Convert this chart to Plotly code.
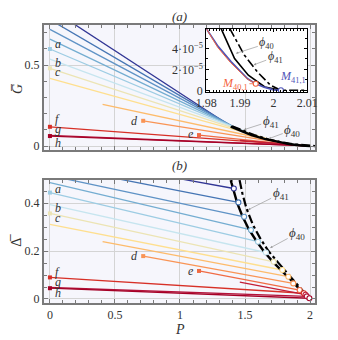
import plotly.graph_objects as go

# colour of every branch, dark blue -> dark red
branch_colors = ["#313695", "#4575b4", "#5f93c6", "#74add1", "#9dcce3", "#c6e5ef",
                 "#ece4b4", "#fedf8f", "#fdbb6b", "#f99455", "#f06b44", "#d73027",
                 "#c21d36", "#b3133a", "#a50026"]

# start / end of every branch
p_start = [0, 0, 0, 0, 0, 0, 0, 0, 0.405, 0.717, 1.146, 0, 1.46, 0, 0]
p_end = [1.414, 1.449, 1.493, 1.546, 1.60, 1.66, 1.72, 1.787, 1.833, 1.871, 1.92, 1.952, 1.965, 1.975, 1.995]
g_start = [0.85, 0.78, 0.72, 0.66, 0.599, 0.537, 0.48, 0.418, 0.257, 0.156, 0.068, 0.119, 0.035, 0.066, 0.062]
g_end = [0.11, 0.10, 0.085, 0.068, 0.055, 0.043, 0.030, 0.020, 0.013, 0.009, 0.005, 0.003, 0.0025, 0.002, 0.001]
delta_start = [0.60, 0.557, 0.515, 0.486, 0.444, 0.394, 0.357, 0.311, 0.239, 0.179, 0.117, 0.090, 0.070, 0.048, 0.045]
delta_end = [0.461, 0.403, 0.343, 0.288, 0.239, 0.194, 0.155, 0.121, 0.093, 0.065, 0.0375, 0.024, 0.018, 0.011, 0.003]

# branches whose starting point gets a square marker
marked = [4, 6, 9, 10, 11, 14]

# boundary curves, panel (a)
phi40_p_a = [1.39, 1.45, 1.55, 1.65, 1.75, 1.85, 1.93, 2.0]
phi40_g_a = [0.12, 0.10, 0.068, 0.045, 0.026, 0.011, 0.004, 0.0]
phi41_p_a = [1.40, 1.47, 1.57, 1.67, 1.77, 1.87, 1.95, 2.0, 2.04]
phi41_g_a = [0.122, 0.10, 0.068, 0.044, 0.025, 0.011, 0.004, 0.0, 0.0]

# boundary curves, panel (b)
phi40_p_b = [1.39, 1.41, 1.44, 1.48, 1.53, 1.59, 1.65, 1.72, 1.79, 1.86, 1.93, 2.0]
phi40_d_b = [0.496, 0.46, 0.40, 0.345, 0.29, 0.24, 0.195, 0.152, 0.115, 0.075, 0.035, 0.0]
phi41_p_b = [1.458, 1.48, 1.51, 1.56, 1.62, 1.68, 1.75, 1.82, 1.89, 1.95, 2.0]
phi41_d_b = [0.496, 0.44, 0.38, 0.31, 0.25, 0.20, 0.155, 0.11, 0.065, 0.03, 0.0]

# inset (zoom near P = 2)
m40_p = [1.98, 1.9834, 1.9872, 1.9903, 1.9922, 1.9947]
m40_g = [5.9e-5, 4.1e-5, 2.65e-5, 1.65e-5, 1.08e-5, 0.63e-5]
m41_p = [1.98, 1.9835, 1.9874, 1.9905, 1.9923, 1.9947, 1.9972, 2.0, 2.0022]
m41_g = [5.9e-5, 4.2e-5, 2.72e-5, 1.7e-5, 1.1e-5, 0.63e-5, 0.3e-5, 0.05e-5, 0.0]
ins40_p = [1.9844, 1.9884, 1.9925, 1.9974, 2.0022]
ins40_g = [5.9e-5, 3.04e-5, 1.44e-5, 0.32e-5, 0.0]
ins41_p = [1.987, 1.9913, 1.9952, 1.9991, 2.0022, 2.01]
ins41_g = [5.9e-5, 3.37e-5, 1.76e-5, 0.48e-5, 0.0, 0.0]

FONT = "Liberation Serif"
FRAME = "#7a7a7a"
GRID = "#d4d4d4"
PANEL_BG = "#f6f6fc"

fig = go.Figure()

# coloured branches
for i, c in enumerate(branch_colors):
    fig.add_trace(go.Scatter(x=[p_start[i], p_end[i]], y=[g_start[i], g_end[i]],
                             mode="lines", line=dict(color=c, width=1.3),
                             xaxis="x", yaxis="y", hoverinfo="skip"))
    fig.add_trace(go.Scatter(x=[p_start[i], p_end[i]], y=[delta_start[i], delta_end[i]],
                             mode="lines", line=dict(color=c, width=1.3),
                             xaxis="x2", yaxis="y2", hoverinfo="skip"))

# black boundaries
fig.add_trace(go.Scatter(x=phi41_p_a, y=phi41_g_a, mode="lines",
                         line=dict(color="black", width=2.2, dash="dashdot"), xaxis="x", yaxis="y"))
fig.add_trace(go.Scatter(x=phi40_p_a, y=phi40_g_a, mode="lines",
                         line=dict(color="black", width=2.4), xaxis="x", yaxis="y"))
fig.add_trace(go.Scatter(x=phi41_p_b, y=phi41_d_b, mode="lines",
                         line=dict(color="black", width=2.2, dash="dashdot"), xaxis="x2", yaxis="y2"))
fig.add_trace(go.Scatter(x=phi40_p_b, y=phi40_d_b, mode="lines",
                         line=dict(color="black", width=2.4), xaxis="x2", yaxis="y2"))

# end circles (panel b)
fig.add_trace(go.Scatter(x=p_end, y=delta_end, mode="markers",
                         marker=dict(symbol="circle", size=5, color="white",
                                     line=dict(color=branch_colors, width=1.1)),
                         xaxis="x2", yaxis="y2"))

# start squares
for ax_x, ax_y, vals in (("x", "y", g_start), ("x2", "y2", delta_start)):
    fig.add_trace(go.Scatter(x=[p_start[i] for i in marked], y=[vals[i] for i in marked],
                             mode="markers",
                             marker=dict(symbol="square", size=4, color=[branch_colors[i] for i in marked],
                                         line=dict(width=0)),
                             xaxis=ax_x, yaxis=ax_y))

# inset
fig.add_trace(go.Scatter(x=ins41_p, y=ins41_g, mode="lines",
                         line=dict(color="black", width=1.6, dash="dashdot"), xaxis="x3", yaxis="y3"))
fig.add_trace(go.Scatter(x=ins40_p, y=ins40_g, mode="lines",
                         line=dict(color="black", width=1.6), xaxis="x3", yaxis="y3"))
fig.add_trace(go.Scatter(x=m41_p, y=m41_g, mode="lines",
                         line=dict(color="#4f55b8", width=1.7), xaxis="x3", yaxis="y3"))
fig.add_trace(go.Scatter(x=m40_p, y=m40_g, mode="lines",
                         line=dict(color="#f4643f", width=1.0), xaxis="x3", yaxis="y3"))
fig.add_trace(go.Scatter(x=[m40_p[-1], m41_p[-1]], y=[m40_g[-1], m41_g[-1]], mode="markers",
                         marker=dict(symbol="circle", size=5, color="white",
                                     line=dict(color=["#f4643f", "#4f55b8"], width=1.1)),
                         xaxis="x3", yaxis="y3"))

tick_font = dict(family=FONT, size=12, color="#333")


def main_axis(**kw):
    d = dict(showline=True, linecolor=FRAME, linewidth=2, mirror="allticks",
             ticks="inside", ticklen=4, tickcolor=FRAME, showgrid=True, gridcolor=GRID,
             gridwidth=1, zeroline=False, tickfont=tick_font)
    d.update(kw)
    return d


def inset_axis(**kw):
    d = dict(showline=True, linecolor="black", linewidth=1.2, mirror="allticks",
             ticks="inside", ticklen=3, tickcolor="black", showgrid=False, zeroline=False,
             tickfont=dict(family=FONT, size=12, color="#333"))
    d.update(kw)
    return d


# the page adds an 8px body margin, so the figure is 8px smaller and the margins shifted
fig.update_layout(
    width=330, height=332, showlegend=False,
    margin=dict(l=36, r=20, t=17, b=37),
    paper_bgcolor="white", plot_bgcolor="white",
    xaxis=main_axis(domain=[0, 1], anchor="y", range=[-0.0456, 2.038], dtick=0.5,
                    showticklabels=False, matches="x2",
                    minor=dict(dtick=0.1, ticks="inside", ticklen=3, tickcolor=FRAME)),
    yaxis=main_axis(domain=[0.55, 1], anchor="x", range=[-0.0247, 0.747], dtick=0.5,
                    minor=dict(dtick=0.1, ticks="inside", ticklen=3, tickcolor=FRAME)),
    xaxis2=main_axis(domain=[0, 1], anchor="y2", range=[-0.0456, 2.038], dtick=0.5,
                     minor=dict(dtick=0.1, ticks="inside", ticklen=3, tickcolor=FRAME)),
    yaxis2=main_axis(domain=[0, 0.442], anchor="x2", range=[-0.0167, 0.496], dtick=0.2,
                     minor=dict(dtick=0.05, ticks="inside", ticklen=3, tickcolor=FRAME)),
    xaxis3=inset_axis(domain=[0.599, 0.971], anchor="y3", range=[1.98, 2.01],
                      tickvals=[1.98, 1.99, 2.0, 2.01], ticktext=["1.98", "1.99", "2", "2.01"],
                      minor=dict(dtick=0.001, ticks="inside", ticklen=2, tickcolor="black")),
    yaxis3=inset_axis(domain=[0.759, 0.987], anchor="x3", range=[-0.16e-5, 5.9e-5],
                      tickvals=[0, 2e-5, 4e-5], ticktext=["0", "2·10<sup>−5</sup>", "4·10<sup>−5</sup>"],
                      minor=dict(dtick=1e-5, ticks="inside", ticklen=2, tickcolor="black")),
)

# lavender panel backgrounds (inset stays white)
for xr, yr in (("x domain", "y domain"), ("x2 domain", "y2 domain")):
    fig.add_shape(type="rect", xref=xr, yref=yr, x0=0, x1=1, y0=0, y1=1,
                  fillcolor=PANEL_BG, line=dict(width=0), layer="below")

lab_font = dict(family=FONT, size=12, color="#333")


def txt(x, y, s, xref="paper", yref="paper", **kw):
    kw.setdefault("yanchor", "middle")
    kw.setdefault("xanchor", "center")
    fig.add_annotation(x=x, y=y, xref=xref, yref=yref, text=s, showarrow=False,
                       font=kw.pop("font", lab_font), **kw)


big = dict(family=FONT, size=14, color="#333")
txt(0.5, 1.03, "<i>(a)</i>", font=dict(family=FONT, size=13, color="#333"))
txt(0.5, 0.496, "<i>(b)</i>", font=dict(family=FONT, size=13, color="#333"))
txt(0.5, -0.097, "<i>P</i>", font=big)
txt(-0.1, 0.773, "<i>G\u0305</i>", textangle=-90, font=big)
txt(-0.1, 0.227, "\u0394\u0305", textangle=-90, font=big)

# branch letters
top_labels = [("a", 0.02, 0.628, "left"), ("b", 0.02, 0.514, "left"), ("c", 0.02, 0.455, "left"),
              ("d", 0.69, 0.156, "right"), ("e", 1.12, 0.072, "right"), ("f", 0.02, 0.167, "left"),
              ("g", 0.02, 0.103, "left"), ("h", 0.02, 0.017, "left")]
bot_labels = [("a", 0.02, 0.458, "left"), ("b", 0.02, 0.38, "left"), ("c", 0.02, 0.339, "left"),
              ("d", 0.69, 0.179, "right"), ("e", 1.12, 0.117, "right"), ("f", 0.02, 0.111, "left"),
              ("g", 0.02, 0.07, "left"), ("h", 0.02, 0.024, "left")]
for s, x, y, anc in top_labels:
    txt(x, y, "<i>%s</i>" % s, xref="x", yref="y", xanchor=anc)
for s, x, y, anc in bot_labels:
    txt(x, y, "<i>%s</i>" % s, xref="x2", yref="y2", xanchor=anc)


def arrow(x, y, ax, ay, s, xr, yr, size=13):
    fig.add_annotation(x=x, y=y, ax=ax, ay=ay, xref=xr, yref=yr, axref=xr, ayref=yr,
                       text=s, showarrow=True, arrowhead=2, arrowsize=0.7, arrowwidth=0.7,
                       arrowcolor="#999", standoff=1,
                       font=dict(family=FONT, size=size, color="#333"))


arrow(1.483, 0.099, 1.698, 0.154, "<i>ϕ</i><sub>41</sub>", "x", "y")
arrow(1.673, 0.043, 1.863, 0.099, "<i>ϕ</i><sub>40</sub>", "x", "y")
arrow(1.515, 0.37, 1.774, 0.44, "<i>ϕ</i><sub>41</sub>", "x2", "y2")
arrow(1.686, 0.211, 1.901, 0.274, "<i>ϕ</i><sub>40</sub>", "x2", "y2")
arrow(1.9885, 3.5e-5, 1.998, 4.48e-5, "<i>ϕ</i><sub>40</sub>", "x3", "y3", size=12)
arrow(1.9938, 2.4e-5, 2.0005, 3.2e-5, "<i>ϕ</i><sub>41</sub>", "x3", "y3", size=12)

fig.add_annotation(x=m40_p[-1], y=m40_g[-1], ax=1.9885, ay=0.63e-5, xref="x3", yref="y3",
                   axref="x3", ayref="y3", text="<i>M</i><sub>40,1</sub>", showarrow=True,
                   arrowhead=0, arrowwidth=0.8, arrowcolor="#f4643f", standoff=2,
                   font=dict(family=FONT, size=12, color="#f4643f"))
txt(2.0058, 1.28e-5, "<i>M</i><sub>41,1</sub>", xref="x3", yref="y3",
    font=dict(family=FONT, size=12, color="#4f55b8"))

fig.write_html("out.html")
